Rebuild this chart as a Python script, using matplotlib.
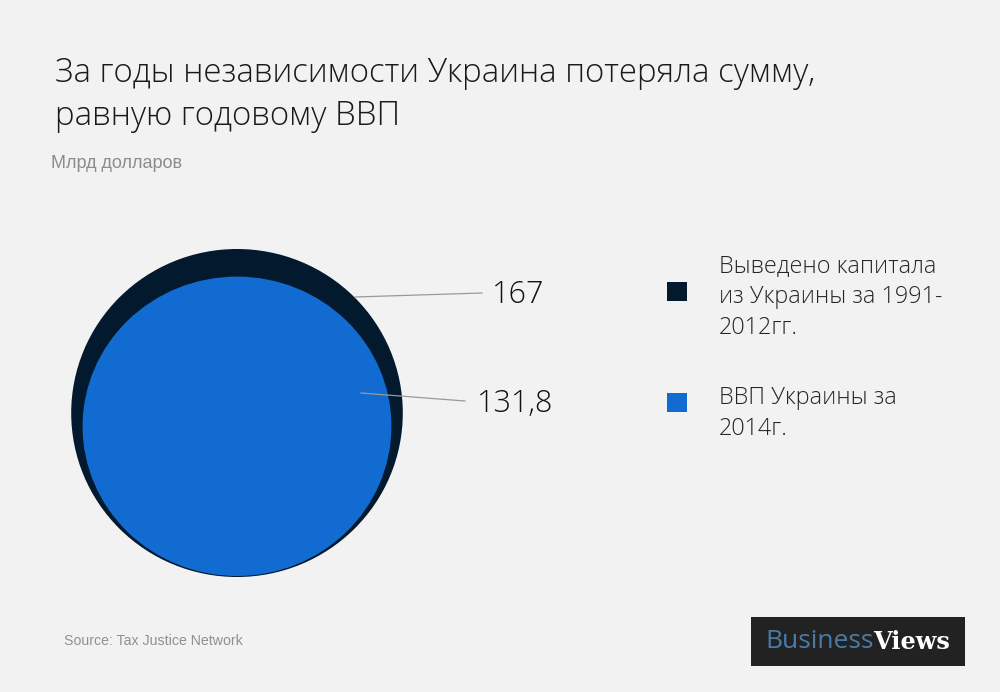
import matplotlib
matplotlib.use('Agg')
import matplotlib.pyplot as plt
from matplotlib.patches import Ellipse, Rectangle

# Datos (mlrd USD)
valores = [167, 131.8]
etiquetas = ['167', '131,8']
leyenda = ['Выведено капитала\nиз Украины за 1991-\n2012гг.', 'ВВП Украины за\n2014г.']
colores = ['#02192e', '#116bd1']

titulo = 'За годы независимости Украина потеряла сумму,\nравную годовому ВВП'
subtitulo = 'Млрд долларов'
fuente = 'Source: Tax Justice Network'

FONDO = '#f2f2f2'
LIGERA = 'Open Sans'

fig = plt.figure(figsize=(10, 6.92), dpi=100, facecolor=FONDO)
# ejes en pixeles de la imagen
ax = fig.add_axes([0, 0, 1, 1])
ax.set_xlim(0, 1000)
ax.set_ylim(692, 0)
ax.axis('off')

# Titulo y subtitulo
ax.text(55, 73, titulo.split('\n')[0], fontsize=23.75, family=LIGERA, weight='light', color='#1a1a1a', va='center')
ax.text(55, 116, titulo.split('\n')[1], fontsize=23.75, family=LIGERA, weight='light', color='#1a1a1a', va='center')
ax.text(51, 163, subtitulo, fontsize=13, family='Liberation Sans', color='#8c8c8c', va='center')

# Circulos: en el original no son del todo proporcionales al area,
# asi que el radio sale del valor con exponentes ajustados a ojo
centros_y = [413, 426.3]
for v, c, cy in zip(valores, colores, centros_y):
    rx = 165.8 * (v / valores[0]) ** 0.30
    ry = 164 * (v / valores[0]) ** 0.385
    ax.add_patch(Ellipse((237, cy), 2 * rx, 2 * ry, facecolor=c, edgecolor='none'))

# Lineas guia y etiquetas
ax.plot([355, 482], [297, 293], color='#9a9a9a', lw=0.9)
ax.plot([361, 465], [393, 401], color='#9a9a9a', lw=0.9)
ax.text(492, 295, etiquetas[0], fontsize=22, family=LIGERA, weight='light', color='#111111', va='center')
ax.text(477, 404, etiquetas[1], fontsize=22, family=LIGERA, weight='light', color='#111111', va='center')

# Leyenda
pos_cuadro = [282, 393]
pos_texto = [[266, 297, 328], [398, 429]]
for c, y, lineas, ys in zip(colores, pos_cuadro, leyenda, pos_texto):
    ax.add_patch(Rectangle((667, y), 20, 19, facecolor=c, edgecolor='none'))
    for linea, yt in zip(lineas.split('\n'), ys):
        ax.text(719, yt, linea, fontsize=16.85, family=LIGERA, weight='light', color='#262626', va='center')

# Fuente y logo
ax.text(64, 641, fuente, fontsize=10.2, family='Liberation Sans', color='#909090', va='center')
ax.add_patch(Rectangle((751, 617), 214, 49, facecolor='#222222', edgecolor='none'))
ax.text(765, 642, 'Business', fontsize=19, family='Open Sans', color='#4a7ba7', va='center')
ax.text(873, 642, 'Views', fontsize=17.3, family='DejaVu Serif', weight='bold', color='white', va='center')

fig.savefig('out.png', dpi=100, facecolor=FONDO)
